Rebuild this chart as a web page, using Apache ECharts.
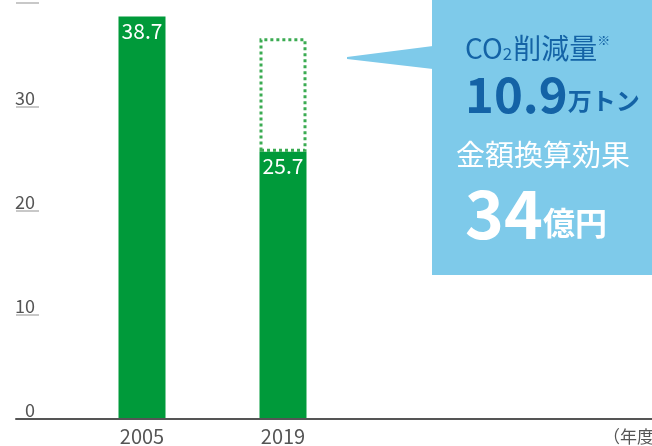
<!DOCTYPE html>
<html>
<head>
<meta charset="utf-8">
<script src="https://cdn.jsdelivr.net/npm/echarts@6/dist/echarts.min.js"></script>
<style>
  html, body { margin: 0; padding: 0; background: #fff; }
  #chart { width: 652px; height: 446px; }
</style>
</head>
<body>
<div id="chart"></div>
<script>
// データ
const years = ['2005', '2019'];
const emission = [38.7, 25.7];       // 実績（万トン）
const reduction = [null, 10.9];      // 削減量（点線の枠）
const yMax = 40;
const yStep = 10;
const co2Text = '10.9';
const moneyText = '34';

const FONT = '"Noto Sans CJK JP", "Noto Sans", sans-serif';
const green = '#009a3a';
const boxBlue = '#7ecaea';
const darkBlue = '#1463a6';

var chart = echarts.init(document.getElementById('chart'));

var option = {
  animation: false,
  textStyle: { fontFamily: FONT },
  grid: [
    // 目盛と軸線用
    { left: 16, right: 0, top: 3, bottom: 27 },
    // 棒グラフ用
    { left: 71.5, width: 282, top: 3, bottom: 27 }
  ],
  xAxis: [
    {
      gridIndex: 0,
      type: 'category',
      data: [''],
      z: 5,
      axisLine: { show: true, lineStyle: { color: '#555', width: 2 } },
      axisTick: { show: false },
      axisLabel: { show: false }
    },
    {
      gridIndex: 1,
      type: 'category',
      data: years,
      axisLine: { show: false },
      axisTick: { show: false },
      axisLabel: { color: '#555', fontSize: 20, margin: 7, fontFamily: FONT }
    }
  ],
  yAxis: [
    {
      gridIndex: 0,
      type: 'value',
      min: 0,
      max: yMax,
      interval: yStep,
      axisLine: { show: false },
      axisTick: { show: true, inside: true, length: 23, lineStyle: { color: '#c8c8c8', width: 2 } },
      axisLabel: {
        inside: true,
        color: '#555',
        fontSize: 18,
        margin: 19,
        align: 'right',
        verticalAlign: 'bottom',
        // 一番上の目盛（40）は画面外で見えない
        formatter: function (v) {
          return v === yMax ? '' : v;
        }
      },
      splitLine: { show: false }
    },
    {
      gridIndex: 1,
      type: 'value',
      min: 0,
      max: yMax,
      interval: yStep,
      show: false
    }
  ],
  series: [
    {
      type: 'bar',
      xAxisIndex: 1,
      yAxisIndex: 1,
      stack: 'total',
      barWidth: 47,
      z: 3,
      data: emission,
      itemStyle: { color: green },
      label: {
        show: true,
        position: 'insideTop',
        distance: 4,
        color: '#fff',
        fontSize: 21,
        fontFamily: FONT
      }
    },
    {
      type: 'bar',
      xAxisIndex: 1,
      yAxisIndex: 1,
      stack: 'total',
      barWidth: 47,
      data: reduction,
      itemStyle: {
        color: 'rgba(255,255,255,0)',
        borderColor: '#3bab52',
        borderWidth: 3,
        borderType: 'dotted'
      }
    }
  ],
  graphic: [
    {
      type: 'polygon',
      shape: { points: [[433, 46], [347, 57], [347, 59], [433, 69]] },
      style: { fill: boxBlue }
    },
    {
      type: 'rect',
      shape: { x: 432, y: 0, width: 220, height: 275 },
      style: { fill: boxBlue }
    },
    {
      type: 'text',
      x: 465,
      y: 48,
      style: {
        text: '{a|CO}{s|2}{a|削減量}{n|※}',
        verticalAlign: 'middle',
        rich: {
          a: { fontSize: 28, fill: darkBlue, fontFamily: FONT },
          s: { fontSize: 17, fill: darkBlue, fontFamily: FONT, verticalAlign: 'bottom', padding: [0, 1, 0, 0] },
          n: { fontSize: 13, fill: darkBlue, fontFamily: FONT, verticalAlign: 'top' }
        }
      }
    },
    {
      type: 'text',
      x: 465,
      y: 94,
      style: {
        text: '{b|' + co2Text + '}{u|万トン}',
        verticalAlign: 'middle',
        rich: {
          b: { fontSize: 49, fontWeight: 'bold', fill: darkBlue, fontFamily: FONT },
          u: { fontSize: 24, fontWeight: 'bold', fill: darkBlue, fontFamily: FONT, verticalAlign: 'bottom', padding: [0, 0, 6, 0] }
        }
      }
    },
    {
      type: 'text',
      x: 456,
      y: 155,
      style: {
        text: '金額換算効果',
        verticalAlign: 'middle',
        font: '29px ' + FONT,
        fill: '#fff'
      }
    },
    {
      type: 'text',
      x: 465,
      y: 214,
      style: {
        text: '{b|' + moneyText + '}{u|億円}',
        verticalAlign: 'middle',
        rich: {
          b: { fontSize: 66, fontWeight: 'bold', fill: '#fff', fontFamily: FONT },
          u: { fontSize: 32, fontWeight: 'bold', fill: '#fff', fontFamily: FONT, verticalAlign: 'bottom', padding: [0, 0, 8, 0] }
        }
      }
    },
    {
      type: 'text',
      x: 603,
      y: 437,
      style: {
        text: '（年度）',
        verticalAlign: 'middle',
        font: '17px ' + FONT,
        fill: '#555'
      }
    }
  ]
};

chart.setOption(option);
</script>
</body>
</html>
